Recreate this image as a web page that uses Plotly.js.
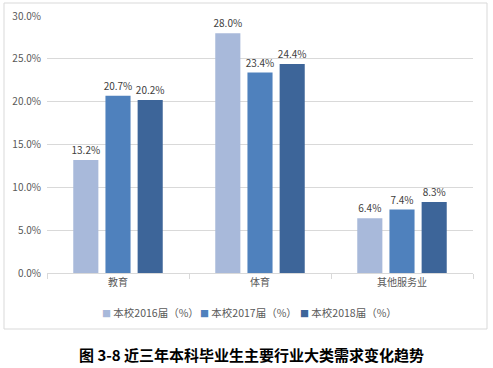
<!DOCTYPE html>
<html><head><meta charset="utf-8">
<script src="https://cdn.plot.ly/plotly-3.0.1.min.js"></script>
<style>html,body{margin:0;padding:0;background:#fff;}#c{width:493px;height:368px;}</style>
</head><body><div id="c"></div>
<script>
const categories = ['教育', '体育', '其他服务业'];
const seriesNames = ['本校2016届（%）', '本校2017届（%）', '本校2018届（%）'];
const v2016 = [13.2, 28.0, 6.4];
const v2017 = [20.7, 23.4, 7.4];
const v2018 = [20.2, 24.4, 8.3];
const yTicks = [0, 5, 10, 15, 20, 25, 30];
const yTickText = ['0.0%', '5.0%', '10.0%', '15.0%', '20.0%', '25.0%', '30.0%'];
const captionText = '图 3-8 近三年本科毕业生主要行业大类需求变化趋势';

const colors = ['#A8B9DA', '#4F81BD', '#3D6599'];
const fontFam = '"Noto Sans CJK SC", "Noto Sans", sans-serif';
const values = [v2016, v2017, v2018];

const traces = values.map((v, i) => ({
  type: 'bar', x: categories, y: v, name: seriesNames[i],
  marker: {color: colors[i]},
  texttemplate: '%{y:.1f}%', textposition: 'outside', cliponaxis: false,
  constraintext: 'none',
  textfont: {family: fontFam, size: 10, color: '#404040'},
  hoverinfo: 'none', showlegend: false
}));

const W = 426, H = 257, L = 47, T = 16;
const px = x => (x - L) / W;
const py = y => (T + H - y) / H;

const legendX = [100, 198, 298];
const legendAnn = seriesNames.map((n, i) => ({
  xref: 'paper', yref: 'paper', x: px(legendX[i]), y: py(312),
  xanchor: 'left', yanchor: 'middle', showarrow: false,
  text: '<span style="color:' + colors[i] + ';font-size:9px">■</span> ' + n,
  font: {family: fontFam, size: 10.5, color: '#595959'}
}));

const layout = {
  width: 493, height: 368,
  margin: {l: L, r: 493 - L - W, t: T, b: 368 - T - H},
  paper_bgcolor: '#fff', plot_bgcolor: '#fff',
  barmode: 'group', bargap: 0.32, bargroupgap: 0.22,
  font: {family: fontFam, size: 10, color: '#595959'},
  uniformtext: {mode: false},
  xaxis: {
    showgrid: false, showline: true, linecolor: '#d9d9d9', linewidth: 1,
    ticks: 'outside', tickson: 'boundaries', ticklen: 5, tickcolor: '#d9d9d9',
    tickfont: {family: fontFam, size: 10, color: '#595959'}, fixedrange: true
  },
  yaxis: {
    range: [0, 30], tickvals: yTicks, ticktext: yTickText,
    showgrid: true, gridcolor: '#d9d9d9', gridwidth: 1, zeroline: false,
    showline: false, ticks: '', ticklabelstandoff: 5,
    tickfont: {family: fontFam, size: 10, color: '#595959'}, fixedrange: true
  },
  showlegend: false,
  shapes: [{
    type: 'rect', xref: 'paper', yref: 'paper',
    x0: px(4), x1: px(487), y0: py(329), y1: py(3),
    line: {color: '#d9d9d9', width: 1}, fillcolor: 'rgba(0,0,0,0)', layer: 'below'
  }],
  annotations: legendAnn.concat([{
    xref: 'paper', yref: 'paper', x: px(251), y: py(354),
    xanchor: 'center', yanchor: 'middle', showarrow: false,
    text: '<b>' + captionText + '</b>',
    font: {family: fontFam, size: 15, color: '#000'}
  }])
};

Plotly.newPlot('c', traces, layout, {displayModeBar: false, staticPlot: true});
</script></body></html>
